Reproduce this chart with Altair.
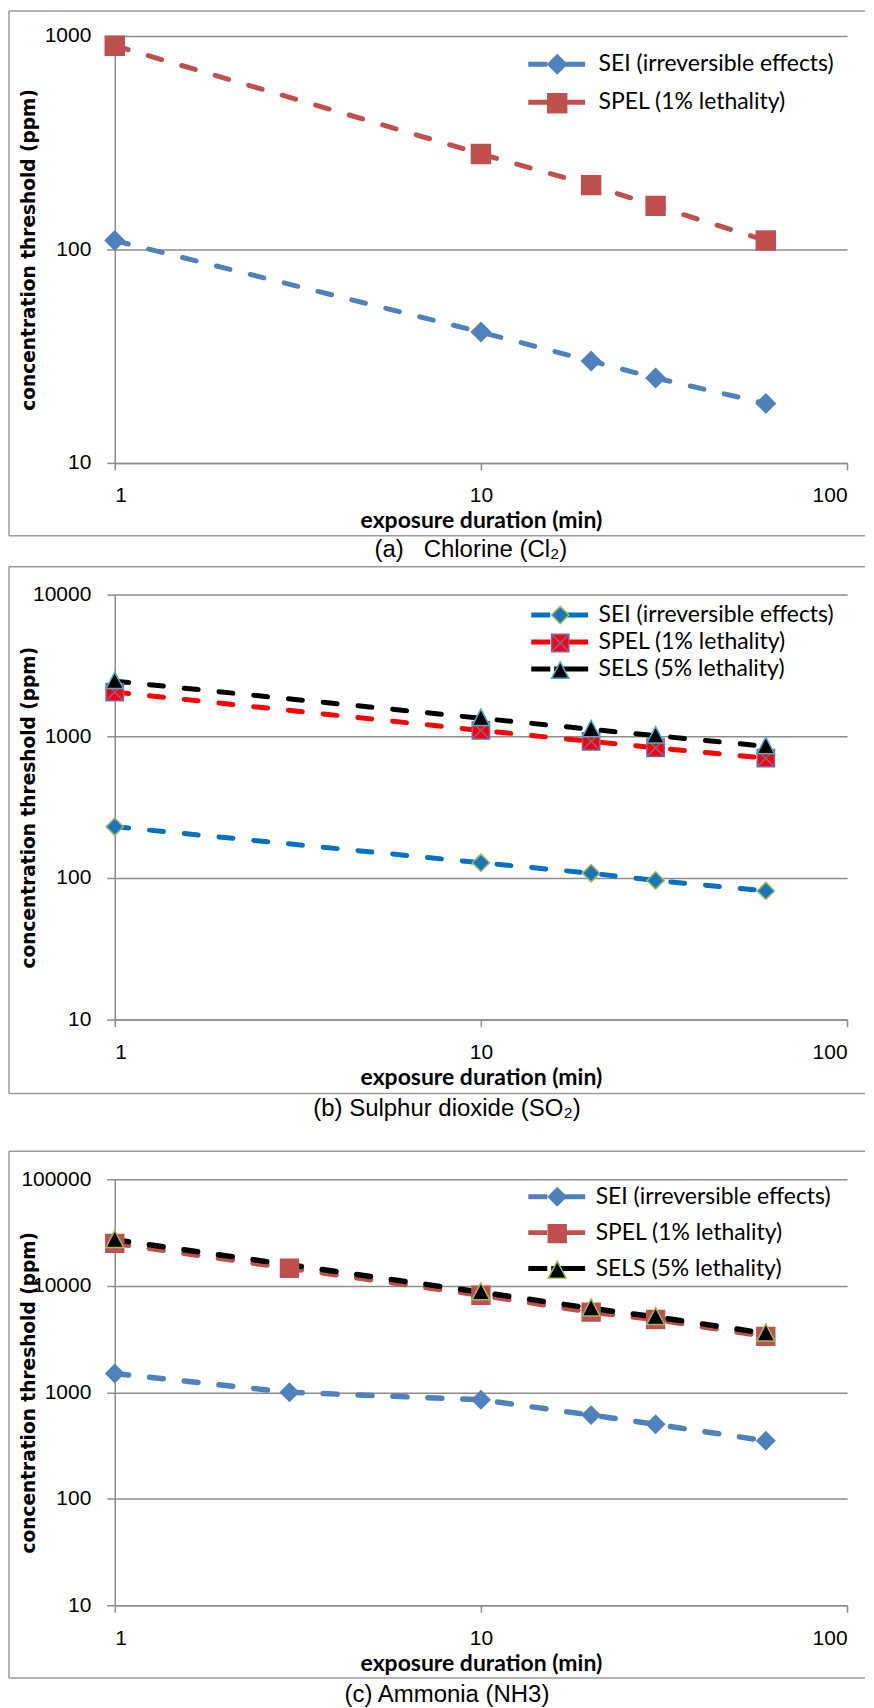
import altair as alt
import pandas as pd

SERIES = ["SEI (irreversible effects)", "SPEL (1% lethality)", "SELS (5% lethality)"]

# (a) Chlorine
cl2_t = [1, 10, 20, 30, 60]
cl2_sei = [110, 41, 30, 25, 19]
cl2_spel = [900, 280, 200, 160, 110]
# (b) Sulphur dioxide
so2_t = [1, 10, 20, 30, 60]
so2_sei = [230, 128, 108, 96, 81]
so2_spel = [2050, 1100, 920, 830, 700]
so2_sels = [2450, 1340, 1120, 1010, 850]
# (c) Ammonia
nh3_t = [1, 3, 10, 20, 30, 60]
nh3_sei = [1500, 1000, 850, 610, 500, 350]
nh3_spel = [25000, 14600, 8150, 5660, 4820, 3350]
nh3_sels_t = [1, 10, 20, 30, 60]
nh3_sels = [27000, 8690, 6140, 5100, 3570]

x_ticks = [1, 10, 100]
ticks_a = [10, 100, 1000]
ticks_b = [10, 100, 1000, 10000]
ticks_c = [10, 100, 1000, 10000, 100000]

GRID = "#8c8c8c"
FRAME = "#9a9a9a"
LINE_SYM = "M-29,0L-10,0M-6,0L28,0"
TRI = "M0,-1.05L1,0.85L-1,0.85Z"
SQX = "M-1,-1L1,-1L1,1L-1,1Z M-1,-1L1,1 M1,-1L-1,1"
W = 734


def long(pairs):
    rows = []
    for name, ts, vs in pairs:
        for t, v in zip(ts, vs):
            rows.append({"t": t, "c": v, "s": name})
    return pd.DataFrame(rows)


def one():
    return pd.DataFrame({"k": [0]})


def panel(df, names, line_colors, fills, outlines, shapes, ydom, yticks, h,
          msize, lw, leg, cell, frame, caption, cap_x, cap_y):
    xenc = alt.X("t:Q", scale=alt.Scale(type="log", domain=[1, 100], nice=False),
                 axis=alt.Axis(values=x_ticks, format="d", grid=False,
                               domainColor=GRID, domainWidth=1.5,
                               tickColor=GRID, tickWidth=1.5, tickSize=7,
                               labelFont="Liberation Sans", labelFontSize=21,
                               labelColor="black", labelPadding=15,
                               labelBaseline="top",
                               title="exposure duration (min)",
                               titleFont="Lato", titleFontSize=23,
                               titleFontWeight="bold", titleColor="black",
                               titleX=W / 2, titleY=58, titleAlign="center",
                               titleBaseline="middle"))
    yenc = alt.Y("c:Q", scale=alt.Scale(type="log", domain=ydom, nice=False),
                 axis=alt.Axis(values=yticks, format="d", grid=True,
                               gridColor=GRID, gridWidth=1.5,
                               domainColor=GRID, domainWidth=1.5,
                               tickColor=GRID, tickWidth=1.5, tickSize=8,
                               labelFont="Liberation Sans", labelFontSize=21,
                               labelColor="black", labelPadding=16,
                               title="concentration threshold (ppm)",
                               titleFont="DejaVu Sans", titleFontSize=18.6,
                               titleFontWeight="bold", titleColor="black",
                               titleX=-86, titleY=h / 2, titleAngle=270,
                               titleAlign="center", titleBaseline="middle"))
    lx, ly, rp, lo = leg
    common = dict(orient="none", legendX=lx, legendY=ly, direction="vertical",
                  title=None, rowPadding=rp, padding=0, labelLimit=400,
                  labelFont="Lato", labelFontSize=23)
    line_leg = alt.Legend(symbolType=LINE_SYM, symbolSize=4, symbolStrokeWidth=5,
                          symbolDash=[1, 0], labelOffset=lo, labelColor="black",
                          zindex=1, **common)
    mnames = [n + " " for n in names]
    pt_leg = alt.Legend(symbolSize=msize, symbolStrokeWidth=1.5, labelExpr="''",
                        labelOffset=lo, zindex=2, symbolOpacity=1, **common)

    lines = alt.Chart(df).mark_line(strokeWidth=lw, strokeDash=[14, 21],
                                    strokeCap="round").encode(
        x=xenc, y=yenc,
        color=alt.Color("s:N", scale=alt.Scale(domain=names, range=line_colors),
                        legend=line_leg),
        order="t:Q")

    points = alt.Chart(df).transform_calculate(m="datum.s + ' '").mark_point(
        filled=True, opacity=1, size=msize, strokeWidth=1.5).encode(
        x=xenc, y=yenc,
        fill=alt.Fill("m:N", scale=alt.Scale(domain=mnames, range=fills), legend=pt_leg),
        stroke=alt.Stroke("m:N", scale=alt.Scale(domain=mnames, range=outlines),
                          legend=pt_leg),
        shape=alt.Shape("m:N", scale=alt.Scale(domain=mnames, range=shapes), legend=pt_leg))

    ct, cb = cell
    ft, fb = frame
    cell_rect = alt.Chart(one()).mark_rect(fill="transparent", opacity=0).encode(
        x=alt.value(-106), x2=alt.value(752), y=alt.value(ct), y2=alt.value(cb))
    f_top = alt.Chart(one()).mark_rule(color=FRAME, strokeWidth=1.5).encode(
        x=alt.value(-106), x2=alt.value(752), y=alt.value(ft))
    f_bot = alt.Chart(one()).mark_rule(color=FRAME, strokeWidth=1.5).encode(
        x=alt.value(-106), x2=alt.value(752), y=alt.value(fb))
    f_left = alt.Chart(one()).mark_rule(color=FRAME, strokeWidth=1.5).encode(
        x=alt.value(-106), y=alt.value(ft), y2=alt.value(fb))
    cap = alt.Chart(one()).mark_text(font="Liberation Sans", fontSize=24,
                                     align="center", baseline="middle",
                                     color="black").encode(
        x=alt.value(cap_x), y=alt.value(cap_y), text=alt.value(caption))
    return alt.layer(cell_rect, f_top, f_bot, f_left, lines, points, cap).properties(
        width=W, height=h)


df_a = long([(SERIES[0], cl2_t, cl2_sei), (SERIES[1], cl2_t, cl2_spel)])
df_b = long([(SERIES[0], so2_t, so2_sei), (SERIES[1], so2_t, so2_spel),
             (SERIES[2], so2_t, so2_sels)])
df_c = long([(SERIES[0], nh3_t, nh3_sei), (SERIES[1], nh3_t, nh3_spel),
             (SERIES[2], nh3_sels_t, nh3_sels)])

pa = panel(df_a, SERIES[:2], ["#4F81BD", "#C0504D"], ["#4F81BD", "#C0504D"],
           ["#4F81BD", "#C0504D"], ["diamond", "square"], [10, 1000], ticks_a, 428,
           360, 5, (432, 17, 14, 30), (-25, 531), (-25, 501),
           "(a)\u00a0\u00a0\u00a0Chlorine (Cl\u2082)", 357, 515)
pb = panel(df_b, SERIES, ["#0070C0", "#FF0000", "#000000"],
           ["#1B75BB", "#FF0000", "#000000"], ["#9BBB59", "#8064A2", "#4BACC6"],
           ["diamond", SQX, TRI], [10, 10000], ticks_b, 426,
           300, 5, (435, 9, 3, 27), (-28, 557), (-28, 500),
           "(b) Sulphur dioxide (SO\u2082)", 333, 516)
pc = panel(df_c, SERIES, ["#4F81BD", "#C0504D", "#000000"],
           ["#4F81BD", "#C0504D", "#000000"], ["#4F81BD", "#C0504D", "#9BBB59"],
           ["diamond", "square", TRI], [10, 100000], ticks_c, 427,
           320, 5.5, (432, 6, 12, 27), (-28, 517), (-28, 500),
           "(c) Ammonia (NH3)", 333, 517)

chart = alt.vconcat(pa, pb, pc, spacing=0).properties(padding=0).resolve_scale(
    color="independent", fill="independent", stroke="independent",
    shape="independent", y="independent").resolve_legend(
    color="independent", fill="independent", stroke="independent",
    shape="independent").configure_view(strokeWidth=0)

chart.save("out.html", embed_options={"renderer": "svg", "actions": False})
